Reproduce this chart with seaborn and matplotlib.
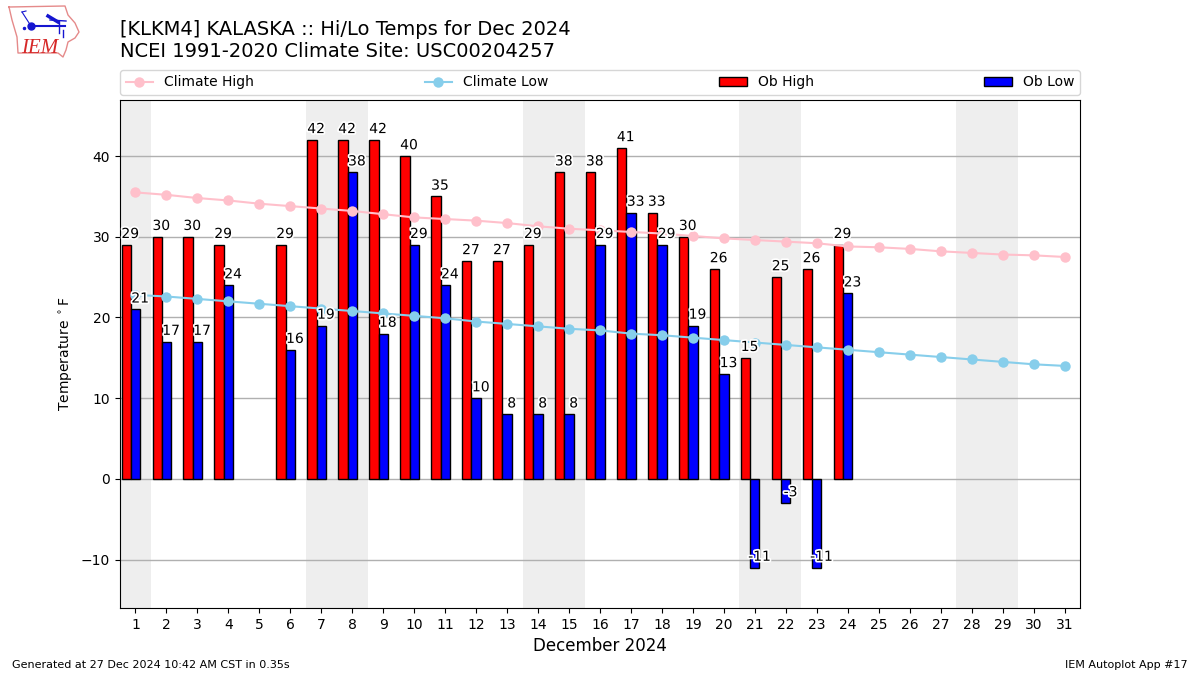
import matplotlib
matplotlib.use("Agg")
import matplotlib.pyplot as plt
import matplotlib.patheffects as pe
from matplotlib.lines import Line2D
from matplotlib.patches import Patch
import numpy as np
import pandas as pd
import seaborn as sns

nan = float("nan")

days = list(range(1, 32))
ob_high = [29, 30, 30, 29, nan, 29, 42, 42, 42, 40, 35, 27, 27, 29, 38, 38, 41, 33, 30, 26,
           15, 25, 26, 29] + [nan] * 7
ob_low = [21, 17, 17, 24, nan, 16, 19, 38, 18, 29, 24, 10, 8, 8, 8, 29, 33, 29, 19, 13,
          -11, -3, -11, 23] + [nan] * 7
climate_high = [35.5, 35.2, 34.8, 34.5, 34.1, 33.8, 33.5, 33.2, 32.8, 32.4, 32.2, 32.0, 31.7, 31.3, 31.0, 30.8,
                30.6, 30.4, 30.1, 29.8, 29.6, 29.4, 29.2, 28.8, 28.7, 28.5, 28.2, 28.0, 27.8, 27.7, 27.5]
climate_low = [22.8, 22.6, 22.3, 22.0, 21.7, 21.4, 21.1, 20.8, 20.5, 20.2, 19.9, 19.5, 19.2, 18.9, 18.6, 18.4,
               18.0, 17.8, 17.5, 17.2, 16.9, 16.6, 16.3, 16.0, 15.7, 15.4, 15.1, 14.8, 14.5, 14.2, 14.0]
weekends = [(0.5, 1.5), (6.5, 8.5), (13.5, 15.5), (20.5, 22.5), (27.5, 29.5)]

# Long table for the dodged bars, the pair sits left of the day tick
bars = pd.DataFrame({
    "day": [d - 0.15 for d in days] * 2,
    "temp": ob_high + ob_low,
    "kind": ["Ob High"] * 31 + ["Ob Low"] * 31,
})

fig = plt.figure(figsize=(12, 6.75), dpi=100)
ax = fig.add_axes([120 / 1200, 1 - 608 / 675, 960 / 1200, 508 / 675])

for start, end in weekends:
    ax.axvspan(start, end, color="#EEEEEE", zorder=0, lw=0)

sns.barplot(data=bars, x="day", y="temp", hue="kind", native_scale=True, width=0.6, dodge=True,
            palette={"Ob High": "red", "Ob Low": "blue"}, edgecolor="black", linewidth=1,
            saturation=1, errorbar=None, legend=False, zorder=2, ax=ax)
sns.lineplot(x=days, y=climate_high, color="pink", marker="o", markersize=7.5, markeredgewidth=0,
             linewidth=1.5, zorder=3, ax=ax)
sns.lineplot(x=days, y=climate_low, color="skyblue", marker="o", markersize=7.5, markeredgewidth=0,
             linewidth=1.5, zorder=3, ax=ax)

# Value labels with a white halo
halo = [pe.withStroke(linewidth=2.5, foreground="white")]
for day, hi, lo in zip(days, ob_high, ob_low):
    if not np.isnan(hi):
        ax.text(day - 0.17, hi + 0.85, f"{hi:.0f}", ha="center", va="baseline", fontsize=10,
                path_effects=halo, zorder=4)
    if not np.isnan(lo):
        ax.text(day + 0.15, lo + 0.85, f"{lo:.0f}", ha="center", va="baseline", fontsize=10,
                path_effects=halo, zorder=4)

ax.set_xlim(0.5, 31.5)
ax.set_ylim(-16, 46.95)
ax.set_xticks(days)
ax.set_yticks([-10, 0, 10, 20, 30, 40])
ax.grid(axis="y", color="#b0b0b0", lw=1)
ax.set_axisbelow(True)
ax.set_xlabel("December 2024", fontsize=12)
ax.set_ylabel(r"Temperature $^\circ$F", fontsize=10)

handles = [
    Line2D([], [], color="pink", marker="o", markersize=7.5, markeredgewidth=0, lw=1.5, label="Climate High"),
    Line2D([], [], color="skyblue", marker="o", markersize=7.5, markeredgewidth=0, lw=1.5, label="Climate Low"),
    Patch(facecolor="red", edgecolor="black", label="Ob High"),
    Patch(facecolor="blue", edgecolor="black", label="Ob Low"),
]
ax.legend(handles=handles, ncol=4, mode="expand", loc="lower left", bbox_to_anchor=(0, 1.01, 1, 0.05),
          borderaxespad=0, fontsize=10)

fig.text(120 / 1200, 1 - 61 / 675, "[KLKM4] KALASKA :: Hi/Lo Temps for Dec 2024\nNCEI 1991-2020 Climate Site: USC00204257",
         fontsize=14, ha="left", va="bottom")
fig.text(12 / 1200, 1 - 670 / 675, "Generated at 27 Dec 2024 10:42 AM CST in 0.35s", fontsize=8, ha="left", va="bottom")
fig.text(1188 / 1200, 1 - 670 / 675, "IEM Autoplot App #17", fontsize=8, ha="right", va="bottom")

# Rough IEM logo, in pixels of the top left corner
logo = fig.add_axes([0, 1 - 60 / 675, 90 / 1200, 60 / 675])
logo.set_xlim(0, 90)
logo.set_ylim(60, 0)
logo.axis("off")
outline_x = [9, 65, 68, 75, 79, 75, 68, 66, 63, 58, 18, 17, 12, 9]
outline_y = [7, 6, 15, 23, 32, 38, 42, 50, 57, 53, 53, 37, 20, 7]
logo.plot(outline_x, outline_y, color="#e58a8a", lw=1)
logo.plot([31, 65], [26, 26], color="#1515d0", lw=1.5)
logo.plot([22, 31], [12, 26], color="#1515d0", lw=0.8)
logo.plot([22, 26], [12, 11], color="#1515d0", lw=0.8)
logo.plot([48, 58], [16, 22], color="#1515d0", lw=2.5)
logo.plot([50, 66], [20, 21], color="#1515d0", lw=1)
logo.plot([59, 59], [22, 33], color="#1515d0", lw=1)
logo.plot([63, 63], [30, 37], color="#1515d0", lw=1)
logo.plot([31], [26], "o", color="#1515d0", ms=5)
logo.plot([24], [28], "o", color="#1515d0", ms=1.5)
logo.text(21, 53, "IEM", color="#d62828", fontsize=15, family="Liberation Serif", style="italic")

fig.savefig("out.png", dpi=100)
